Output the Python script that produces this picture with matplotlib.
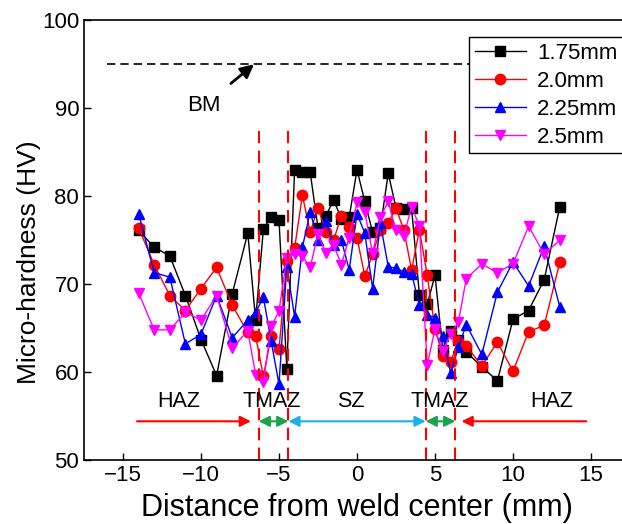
import matplotlib
matplotlib.use("Agg")
import matplotlib.pyplot as plt

plt.rcParams['font.family'] = ['Liberation Sans', 'DejaVu Sans']

x = [-14, -13, -12, -11, -10, -9, -8, -7,
     -6.5, -6, -5.5, -5, -4.5, -4, -3.5, -3, -2.5, -2, -1.5, -1, -0.5,
     0, 0.5, 1, 1.5, 2, 2.5, 3, 3.5, 4, 4.5, 5, 5.5, 6, 6.5, 7,
     8, 9, 10, 11, 12, 13]

hv_175 = [76.1, 74.2, 73.2, 68.7, 63.7, 59.6, 68.9, 75.8,
          65.9, 76.3, 77.6, 77.3, 60.4, 83.0, 82.7, 82.7, 76.4, 77.7, 79.6, 77.4, 77.6,
          83.0, 79.4, 75.9, 76.4, 82.6, 78.7, 78.5, 78.6, 68.8, 67.7, 71.0, 62.5, 64.7, 63.7, 62.3,
          60.6, 59.0, 66.0, 67.0, 70.5, 78.8]
hv_20 = [76.4, 72.2, 68.7, 67.0, 69.5, 71.9, 67.6, 64.5,
         64.1, 59.5, 64.1, 62.6, 72.6, 74.1, 80.1, 75.9, 78.7, 75.9, 75.0, 77.8, 76.5,
         75.3, 70.9, 73.4, 76.2, 77.0, 78.6, 76.2, 71.6, 76.2, 71.0, 64.9, 61.8, 61.2, 63.5, 63.0,
         60.7, 63.4, 60.1, 64.6, 65.3, 72.5]
hv_225 = [78.0, 71.3, 70.8, 63.2, 64.3, 68.7, 63.9, 65.9,
          66.8, 68.5, 63.5, 58.6, 72.0, 66.3, 74.2, 78.2, 75.0, 77.2, 74.5, 75.0, 71.6,
          78.0, 75.8, 69.5, 76.9, 72.0, 71.8, 71.4, 71.2, 67.6, 66.5, 66.2, 64.1, 59.9, 62.8, 65.4,
          62.0, 69.1, 72.5, 69.8, 74.3, 67.4]
hv_25 = [69.0, 64.8, 64.8, 66.8, 65.9, 68.7, 62.7, 64.7,
         59.7, 58.9, 65.2, 66.9, 73.0, 73.4, 73.2, 71.9, 75.7, 73.5, 74.5, 72.2, 75.3,
         79.3, 78.2, 73.5, 77.6, 79.4, 76.1, 75.5, 78.8, 76.6, 60.8, 64.9, 62.4, 64.3, 65.7, 70.6,
         72.3, 71.3, 72.3, 76.6, 73.4, 75.0]

series_labels = ["1.75mm", "2.0mm", "2.25mm", "2.5mm"]
colors = ["black", "red", "blue", "magenta"]
markers = ["s", "o", "^", "v"]

zone_bounds = [-6.3, -4.4, 4.4, 6.3]
bm_level = 95
zone_labels = ["HAZ", "TMAZ", "SZ", "TMAZ", "HAZ"]
zone_label_x = [-11.4, -5.5, -0.4, 5.3, 12.5]

fig = plt.figure(figsize=(6.22, 5.24), dpi=100)
ax = fig.add_axes([84/622, 64/524, 546/622, 439.7/524])

for yv, lab, c, m in zip([hv_175, hv_20, hv_225, hv_25], series_labels, colors, markers):
    ax.plot(x, yv, color=c, marker=m, markersize=7.5, linewidth=1.0,
            markerfacecolor=c, markeredgecolor=c, label=lab)

# zone boundaries
for xb in zone_bounds:
    ax.plot([xb, xb], [50, 88.2], color="red", linestyle=(0, (6, 3.5)), linewidth=1.5)

# BM line
ax.plot([-16, 15.5], [bm_level, bm_level], color="black", linestyle=(0, (5, 3)), linewidth=1.2)
ax.annotate("BM", xy=(-6.6, 95), xytext=(-9.8, 90.3), ha="center", va="center", fontsize=16,
            arrowprops=dict(arrowstyle="-|>", color="black", lw=2.0, mutation_scale=20,
                            shrinkA=10, shrinkB=0))

# zone labels
for lx, lab in zip(zone_label_x, zone_labels):
    ax.text(lx, 56.7, lab, ha="center", va="center", fontsize=15.5)

ay = 54.4
def arrow(x0, x1, color, style):
    ax.annotate("", xy=(x1, ay), xytext=(x0, ay),
                arrowprops=dict(arrowstyle=style, color=color, lw=1.5, mutation_scale=16,
                                shrinkA=0, shrinkB=0))

arrow(-14.1, -6.8, "red", "-|>")
arrow(-6.3, -4.4, "#1aa34a", "<|-|>")
arrow(-4.4, 4.4, "#1eaee8", "<|-|>")
arrow(4.4, 6.3, "#1aa34a", "<|-|>")
arrow(14.7, 6.7, "red", "-|>")

ax.set_xlim(-17.5, 17.5)
ax.set_ylim(50, 100)
ax.set_xticks([-15, -10, -5, 0, 5, 10, 15])
ax.set_yticks([50, 60, 70, 80, 90, 100])
ax.tick_params(direction="in", labelsize=16, length=5, width=1)
for s in ax.spines.values():
    s.set_linewidth(1.2)

ax.set_xlabel("Distance from weld center (mm)", fontsize=22, labelpad=5)
ax.set_ylabel("Micro-hardness (HV)", fontsize=19, labelpad=4)
ax.yaxis.set_label_coords(-0.078, 0.45)

leg = ax.legend(loc="upper left", bbox_to_anchor=(469/622, 1 - 37/524),
                bbox_transform=fig.transFigure, fontsize=16, frameon=True,
                fancybox=False, edgecolor="black", framealpha=1,
                handlelength=2.3, labelspacing=0.32, borderpad=0.25,
                handletextpad=0.5, borderaxespad=0, markerscale=1.0)
leg.get_frame().set_linewidth(1.0)

fig.savefig("out.png", dpi=100)
